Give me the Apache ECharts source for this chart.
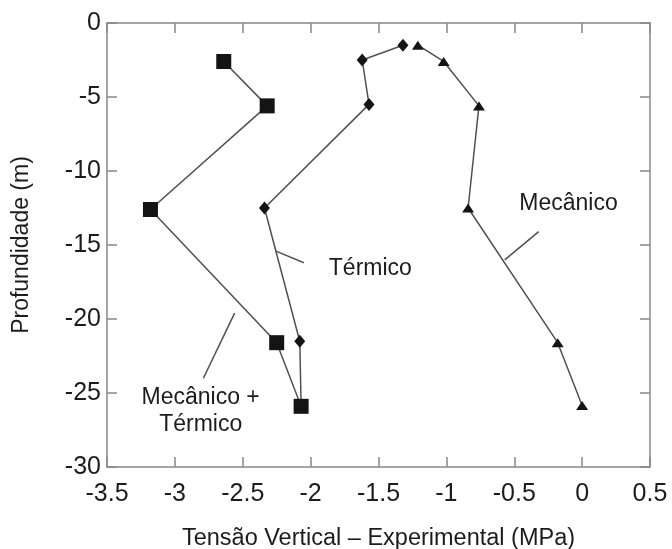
<!DOCTYPE html>
<html>
<head>
<meta charset="utf-8">
<script src="https://cdn.jsdelivr.net/npm/echarts@6/dist/echarts.min.js"></script>
<style>
  html, body { margin: 0; padding: 0; background: #fff; }
  #chart { width: 672px; height: 549px; }
</style>
</head>
<body>
<div id="chart"></div>
<script>
var chart = echarts.init(document.getElementById('chart'));

// [tensao (MPa), profundidade (m)]
const mecanicoTermico = [[-2.64, -2.6], [-2.32, -5.6], [-3.18, -12.6], [-2.25, -21.6], [-2.07, -25.9]];
const termico = [[-1.32, -1.5], [-1.62, -2.5], [-1.57, -5.5], [-2.34, -12.5], [-2.08, -21.5], [-2.07, -25.9]];
const mecanico = [[-1.21, -1.5], [-1.02, -2.6], [-0.76, -5.6], [-0.84, -12.5], [-0.18, -21.6], [0.0, -25.85]];

// leader lines: [from, to]
const leaders = [
	[[-0.32, -14.1], [-0.57, -16.0]],
	[[-2.05, -16.2], [-2.26, -15.4]],
	[[-2.79, -24.0], [-2.56, -19.6]]
];
// annotation texts: [x, y, text]
const notes = [
	[-0.10, -12.2, 'Mecânico'],
	[-1.56, -16.6, 'Térmico'],
	[-2.81, -26.25, 'Mecânico +\nTérmico']
];

const lineColor = '#505050';
const markColor = '#141414';
const axisColor = '#888';
const textColor = '#1c1c1c';
const font = 'Liberation Sans, Arial, sans-serif';

function boxAxis(base) {
	return Object.assign({
		type: 'value',
		axisLine: { show: true, onZero: false, lineStyle: { color: axisColor, width: 1.5 } },
		axisTick: { show: true, inside: true, length: 10, lineStyle: { color: axisColor, width: 1.5 } },
		splitLine: { show: false }
	}, base);
}

var xAxisMain = boxAxis({
	min: -3.5, max: 0.5, interval: 0.5, position: 'bottom',
	name: 'Tensão Vertical – Experimental (MPa)',
	nameLocation: 'middle', nameGap: 60,
	nameTextStyle: { fontSize: 23.5, color: textColor, fontFamily: font },
	axisLabel: { fontSize: 25, color: textColor, margin: 15, fontFamily: font }
});
var xAxisTop = boxAxis({
	min: -3.5, max: 0.5, interval: 0.5, position: 'top',
	axisLabel: { show: false }
});
var yAxisMain = boxAxis({
	min: -30, max: 0, interval: 5, position: 'left',
	name: 'Profundidade (m)',
	nameLocation: 'middle', nameGap: 74, nameRotate: 90,
	nameTextStyle: { fontSize: 23, color: textColor, fontFamily: font },
	axisLabel: { fontSize: 25, color: textColor, margin: 6, fontFamily: font }
});
var yAxisRight = boxAxis({
	min: -30, max: 0, interval: 5, position: 'right',
	axisLabel: { show: false }
});

function dataSeries(name, data, symbol, size) {
	return {
		name: name,
		type: 'line',
		data: data,
		symbol: symbol,
		symbolSize: size,
		showAllSymbol: true,
		itemStyle: { color: markColor, borderWidth: 0 },
		lineStyle: { color: lineColor, width: 1.5 },
		z: symbol === 'rect' ? 4 : 3
	};
}

var option = {
	animation: false,
	grid: { left: 107, right: 22, top: 23, bottom: 82, containLabel: false, outerBoundsMode: 'none' },
	xAxis: [xAxisMain, xAxisTop],
	yAxis: [yAxisMain, yAxisRight],
	series: [
		dataSeries('Mecânico', mecanico, 'triangle', [12, 9]),
		dataSeries('Térmico', termico, 'diamond', [11, 13]),
		dataSeries('Mecânico + Térmico', mecanicoTermico, 'rect', 15),
		{
			name: 'notas',
			type: 'scatter',
			symbolSize: 0,
			itemStyle: { opacity: 1 },
			data: notes.map(function (n) { return { value: [n[0], n[1]], label: { formatter: n[2] } }; }),
			label: {
				show: true, position: 'inside', fontSize: 23, lineHeight: 27,
				color: textColor, opacity: 1, fontFamily: font, align: 'center'
			},
			silent: true,
			markLine: {
				silent: true,
				symbol: 'none',
				label: { show: false },
				lineStyle: { color: lineColor, width: 1.5, type: 'solid', opacity: 1 },
				data: leaders.map(function (l) { return [{ coord: l[0] }, { coord: l[1] }]; })
			}
		}
	]
};

chart.setOption(option);
</script>
</body>
</html>
